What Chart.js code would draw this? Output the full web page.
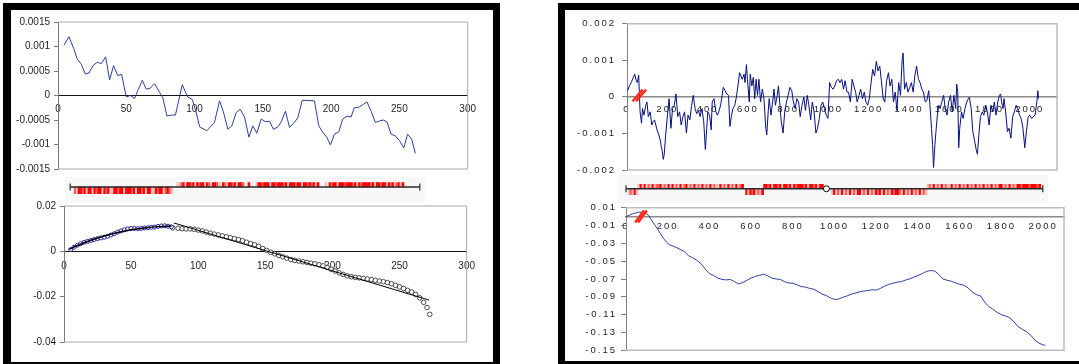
<!DOCTYPE html>
<html><head><meta charset="utf-8">
<script src="https://cdn.jsdelivr.net/npm/chart.js@4/dist/chart.umd.min.js"></script>
<style>
html,body{margin:0;padding:0;background:#fff;width:1079px;height:364px;overflow:hidden;position:relative}
.panel{position:absolute;border-style:solid;border-color:#000;box-sizing:border-box}
canvas{position:absolute}
</style></head><body>
<div class="panel" style="left:3px;top:3px;width:497px;height:366px;border-width:7px 7px 7px 8px"></div>
<div class="panel" style="left:558px;top:3px;width:540px;height:365px;border-width:7px"></div>
<canvas id="cA" width="470" height="170" style="left:14px;top:12px"></canvas>
<canvas id="cB" width="360" height="26" style="left:65px;top:177px"></canvas>
<canvas id="cC" width="470" height="158" style="left:14px;top:196px"></canvas>
<canvas id="cD" width="500" height="170" style="left:568px;top:12px"></canvas>
<canvas id="cF" width="430" height="28" style="left:618px;top:175px"></canvas>
<canvas id="cE" width="505" height="162" style="left:568px;top:198px"></canvas>
<script>
// ---------------- DATA ----------------
// Left panel, top: per-gene skew
const leftTopX = [4.4,8,11.5,14,17,20,22.7,25.6,28.8,31.7,34.9,37.8,40.7,43.7,46.6,50,53,56,58.8,61.7,64.6,67.6,70.7,73.9,76.8,79.8,83,86,91,95,98.3,101,103.7,109,114.6,118.3,121,124.4,127.3,130.5,133.4,136.6,139.8,142.7,145.6,148.8,151.7,154.9,157.8,161,163.4,166.6,169.5,172.4,175.6,178.8,181.7,187.8,191,193.9,196.8,199.5,202.4,205.6,208.5,211.7,214.6,217,220.2,223.7,226.3,229.3,232.4,235.4,238.3,241,243.9,247,250,253.2,256,259,261.7];
const leftTopY = [0.00103,0.0012,0.00096,0.00075,0.00064,0.00044,0.00046,0.00061,0.00068,0.00065,0.00079,0.00032,0.00061,0.00041,0.00043,-0.00003,0,-0.00006,0.00012,0.00031,0.00013,0.00015,0.00024,0.00009,-0.00005,-0.00042,-0.0004,-0.0004,0.00022,-0.00003,-0.00008,-0.00032,-0.00064,-0.00072,-0.00055,-0.00011,-0.00032,-0.00069,-0.00062,-0.00035,-0.00028,-0.00044,-0.00085,-0.00062,-0.00077,-0.00048,-0.00053,-0.00053,-0.00069,-0.00064,-0.00054,-0.00032,-0.00065,-0.00057,-0.00046,-0.0001,-0.0001,-0.00011,-0.00062,-0.00075,-0.00085,-0.00101,-0.00079,-0.00074,-0.00048,-0.00042,-0.00044,-0.00025,-0.00024,-0.00018,-0.00013,-0.00032,-0.00055,-0.00052,-0.0005,-0.00054,-0.00079,-0.00082,-0.00092,-0.00107,-0.00079,-0.00089,-0.00118];
const leftTopYTicks = [-0.0015,-0.001,-0.0005,0,0.0005,0.001,0.0015];
const leftTopYLabels = ['-0.0015','-0.001','-0.0005','0','0.0005','0.001','0.0015'];
const leftXTicks = [0,50,100,150,200,250,300];
const leftXLabels = ['0','50','100','150','200','250','300'];

// Left panel, bottom: cumulative skew
const leftCumBlueX = [5,7.5,10,12.5,15,17.5,20,22.5,25,27.5,30,32.5,35,37.5,40,42.5,45,47.5,50,52.5,55,57.5,60,62.5,65,67.5,70,72.5,75,77.5,80];
const leftCumBlueY = [0.0008,0.0018,0.0027,0.0034,0.0040,0.0044,0.0048,0.0052,0.0056,0.0059,0.0062,0.0066,0.0072,0.0078,0.0085,0.0090,0.0095,0.0099,0.0101,0.0101,0.0100,0.0101,0.0103,0.0104,0.0106,0.0107,0.0110,0.0112,0.0113,0.0111,0.0108];
const leftCumBlackX = [81,85,88,91,94,97,100,103,106,109,112,115,118,121,124,127,130,133,136,139,142,145,148,151,154,157,160,163,166,169,172,175,178,181,184,187,190,193,196,199,202,205,208,211,214,217,220,223,226,229,232,235,238,241,244,247,250,253,256,259,262,265,268,270.5,272.5];
const leftCumBlackY = [0.0104,0.0102,0.0100,0.0099,0.0099,0.0097,0.0094,0.0090,0.0085,0.0080,0.0076,0.0072,0.0068,0.0064,0.0060,0.0056,0.0052,0.0047,0.0040,0.0034,0.0029,0.0022,0.0012,0.0004,-0.0004,-0.0011,-0.0018,-0.0024,-0.0030,-0.0036,-0.0040,-0.0043,-0.0046,-0.0049,-0.0052,-0.0055,-0.0059,-0.0064,-0.0071,-0.0079,-0.0087,-0.0095,-0.0102,-0.0108,-0.0112,-0.0115,-0.0117,-0.0119,-0.0122,-0.0125,-0.0128,-0.0131,-0.0134,-0.0138,-0.0143,-0.0150,-0.0157,-0.0164,-0.0172,-0.0180,-0.0190,-0.0205,-0.0225,-0.0248,-0.0278];
const leftFit1X = [4,10,20,30,40,50,60,70,80];
const leftFit1Y = [0.0009,0.0026,0.0049,0.0068,0.0083,0.0095,0.0103,0.0109,0.0112];
const leftFit2X = [82,272];
const leftFit2Y = [0.0125,-0.0215];
const leftCumYTicks = [-0.04,-0.02,0,0.02];
const leftCumYLabels = ['-0.04','-0.02','0','0.02'];

// Left strip: gene slots [start slot, intensity codes]
const leftStripSlots = 177;
const leftUpperGenes = [[54,'1123133231323313213321'],[77,'32133231332'],[90,'3'],[94,'13323331332333231333233133232313'],[129,'1'],[131,'32331333233323132333323133233132312313']];
const leftLowerGenes = [[2,'21332313313233132311332331333231332313311323312321']];

// Right panel, top: per-gene skew
const rightTopX = [3,12,21,29,38,45,51,58,65,72,
77,84,93,99,106,115,123,130,137,144,
149,158,166,171,175,180,185,192,201,209,
218,226,235,243,252,261,269,278,286,295,
303,312,321,329,338,346,355,363,372,381,
389,394,401,410,418,423,432,441,449,458,
466,478,487,495,504,511,518,526,535,543,
552,559,566,572,581,586,593,598,607,612,
620,627,634,641,648,655,663,672,680,689,
694,701,706,715,723,730,737,746,752,758,
766,775,783,792,800,809,818,826,835,843,
852,860,869,878,886,895,903,912,920,929,
938,946,955,963,972,980,989,998,1006,1015,
1023,1032,1040,1049,1058,1066,1075,1083,1092,1100,
1109,1118,1126,1135,1143,1152,1160,1169,1178,1186,
1195,1203,1212,1220,1229,1238,1246,1255,1263,1272,
1280,1289,1298,1306,1315,1323,1332,1340,1349,1358,
1366,1371,1378,1387,1395,1404,1412,1421,1429,1438,
1447,1455,1464,1472,1481,1489,1498,1503,1512,1517,
1522,1529,1534,1541,1548,1555,1563,1572,1580,1589,
1597,1606,1615,1623,1632,1637,1642,1647,1652,1661,
1669,1678,1687,1695,1700,1709,1717,1726,1735,1740,
1747,1755,1764,1772,1781,1789,1798,1807,1815,1824,
1832,1841,1849,1855,1860,1867,1872,1880,1889,1897,
1906,1915,1923,1932,1940,1949,1957,1966,1975,1983,
1992,2000,2009,2017,2026,2035,2040,2043];
const rightTopY = [0.00017,0.00030,0.00039,0.00050,0.00062,0.00046,0.00039,0.00059,-0.00041,-0.00072,
-0.00032,-0.00050,-0.00023,-0.00014,-0.00054,-0.00041,-0.00077,-0.00068,-0.00063,-0.00079,
-0.00090,-0.00104,-0.00121,-0.00139,-0.00148,-0.00171,-0.00157,-0.00104,-0.00050,-0.00005,
-0.00086,-0.00032,-0.00023,0.00008,-0.00054,-0.00041,-0.00077,-0.00054,-0.00041,-0.00099,
-0.00050,-0.00063,-0.00023,0.00004,-0.00032,-0.00046,-0.00037,-0.00054,-0.00032,-0.00068,
-0.00144,-0.00104,-0.00041,-0.00050,-0.00090,-0.00014,-0.00005,-0.00041,-0.00050,-0.00037,
-0.00019,0.00026,0.00017,0.00008,0.00004,-0.00081,-0.00054,-0.00032,-0.00023,-0.00001,
0.00035,0.00066,0.00057,0.00048,0.00062,0.00039,0.00088,0.00048,-0.00014,0.00062,
0.00030,0.00053,-0.00005,0.00048,0.00004,0.00048,-0.00014,0.00021,-0.00005,-0.00086,
-0.00104,-0.00041,-0.00005,-0.00050,-0.00014,0.00021,-0.00023,0.00004,0.00030,-0.00014,
-0.00068,-0.00099,-0.00041,-0.00014,0.00004,0.00026,0.00017,-0.00014,-0.00032,-0.00005,
-0.00014,-0.00054,-0.00023,-0.00001,-0.00037,0.00004,-0.00023,-0.00063,-0.00014,-0.00041,
-0.00099,-0.00086,-0.00059,-0.00023,-0.00014,-0.00032,-0.00050,-0.00059,0.00039,0.00026,
0.00021,0.00030,0.00044,0.00048,0.00039,0.00048,0.00021,0.00044,0.00013,0.00013,
-0.00014,0.00048,0.00030,0.00013,-0.00014,0.00004,0.00021,-0.00005,0.00013,-0.00014,
-0.00023,-0.00005,0.00039,0.00075,0.00057,0.00097,0.00071,0.00084,0.00044,-0.00005,
-0.00014,0.00044,0.00066,0.00030,0.00048,-0.00014,0.00013,-0.00037,0.00039,0.00004,
0.00102,0.00120,0.00021,0.00039,0.00013,0.00026,0.00039,0.00013,0.00057,0.00084,
0.00048,0.00039,0.00021,0.00013,-0.00014,-0.00010,0.00017,-0.00014,-0.00086,-0.00130,
-0.00193,-0.00130,-0.00095,-0.00050,-0.00023,-0.00032,-0.00014,0.00004,-0.00032,-0.00050,
-0.00014,0.00004,-0.00041,0.00004,-0.00032,0.00035,0.00013,-0.00139,-0.00086,-0.00041,
-0.00059,-0.00032,-0.00014,-0.00005,-0.00001,-0.00032,-0.00095,-0.00121,-0.00148,-0.00157,
-0.00104,-0.00054,-0.00041,-0.00050,-0.00023,-0.00041,-0.00077,-0.00023,-0.00041,-0.00014,
-0.00050,-0.00014,0.00004,0.00008,-0.00014,-0.00032,-0.00005,-0.00041,-0.00095,-0.00086,
-0.00113,-0.00054,-0.00041,-0.00023,-0.00032,-0.00050,-0.00059,-0.00086,-0.00139,-0.00095,
-0.00054,-0.00050,-0.00059,-0.00054,-0.00050,-0.00014,0.00017,-0.00005];
const rightTopYTicks = [-0.002,-0.001,0,0.001,0.002];
const rightTopYLabels = ['-0.002','-0.001','0','0.001','0.002'];
const rightXTicks = [0,200,400,600,800,1000,1200,1400,1600,1800,2000];
const rightXLabels = ['0','200','400','600','800','1000','1200','1400','1600','1800','2000'];
const rightTopMark1 = [[28,-0.00012],[78,0.0002]];
const rightTopMark2 = [[45,-0.00012],[95,0.0002]];

// Right panel, bottom: cumulative skew
const rightCumX = [0,15,30,45,60,75,90,105,120,135,150,165,180,195,210,225,240,260,280,300,320,340,360,380,400,420,440,460,480,500,520,540,560,580,600,620,640,660,680,700,720,740,760,780,800,820,840,860,880,900,920,940,960,980,1000,1020,1040,1060,1080,1100,1120,1140,1160,1180,1200,1220,1240,1260,1280,1300,1320,1340,1360,1380,1400,1420,1440,1460,1480,1500,1520,1540,1560,1580,1600,1620,1640,1660,1680,1700,1720,1740,1760,1780,1800,1820,1840,1860,1880,1900,1920,1940,1960,1980,2000,2010];
const rightCumY = [0,0.0015,0.0030,0.0040,0.0050,0.0048,0.0042,0.0020,-0.0030,-0.0085,-0.0135,-0.0190,-0.0245,-0.0290,-0.0318,-0.0330,-0.0345,-0.0368,-0.0392,-0.0440,-0.0462,-0.0490,-0.0530,-0.0590,-0.0640,-0.0660,-0.0690,-0.0705,-0.0710,-0.0705,-0.0730,-0.0755,-0.0740,-0.0715,-0.0690,-0.0670,-0.0660,-0.0645,-0.0665,-0.0690,-0.0700,-0.0705,-0.0730,-0.0745,-0.0748,-0.0765,-0.0785,-0.0790,-0.0805,-0.0815,-0.0840,-0.0870,-0.0885,-0.0912,-0.0930,-0.0925,-0.0905,-0.0890,-0.0870,-0.0858,-0.0845,-0.0835,-0.0830,-0.0820,-0.0825,-0.0805,-0.0780,-0.0760,-0.0748,-0.0735,-0.0730,-0.0712,-0.0698,-0.0680,-0.0660,-0.0640,-0.0615,-0.0605,-0.0610,-0.0650,-0.0700,-0.0715,-0.0725,-0.0745,-0.0760,-0.0770,-0.0800,-0.0845,-0.0875,-0.0890,-0.0960,-0.1010,-0.1040,-0.1075,-0.1100,-0.1115,-0.1135,-0.1180,-0.1235,-0.1265,-0.1290,-0.1330,-0.1385,-0.1420,-0.1440,-0.1442];
const rightCumYTicks = [-0.15,-0.13,-0.11,-0.09,-0.07,-0.05,-0.03,-0.01,0.01];
const rightCumYLabels = ['-0.15','-0.13','-0.11','-0.09','-0.07','-0.05','-0.03','-0.01','0.01'];
const rightCumMark1 = [[44,-0.0065],[86,0.0068]];
const rightCumMark2 = [[58,-0.0065],[100,0.0068]];

// Right strip
const rightStripSlots = 209;
const rightUpperGenes = [[6,'13131213122312131312131231213121312131211312131213123'],[69,'332313323133231323332313323133'],[151,'121312131211312131213121312131213121331213121332333233323']];
const rightLowerGenes = [[1,'12131'],[60,'313231213'],[103,'131213121312133121312132313121323321312131213121']];
const rightStripTerminus = [100];

// ---------------- RENDERING ----------------
const GENE_COLOURS = {'1':'#ffbcbc','2':'#ff5a5a','3':'#ff0000'};
const FAM = '"Liberation Sans", Arial, sans-serif';
Chart.defaults.font.family = FAM;
Chart.defaults.animation = false;
Chart.defaults.events = [];
Chart.defaults.plugins.legend.display = false;
Chart.defaults.plugins.tooltip.enabled = false;

const pts = (xs, ys) => xs.map((x, i) => ({x, y: ys[i]}));
const pairPts = arr => arr.map(([x, y]) => ({x, y}));

const framePlugin = { id:'frame', beforeDatasetsDraw(chart, a, o) {
  if (!o || !o.color) return;
  const {left, top, right, bottom} = chart.chartArea, c = chart.ctx;
  c.save(); c.strokeStyle = o.color; c.lineWidth = o.width || 1;
  c.beginPath(); c.moveTo(left, top); c.lineTo(right, top); c.lineTo(right, bottom); c.lineTo(left, bottom); c.stroke(); c.restore();
}};
const bgPlugin = { id:'bg', beforeDraw(chart, a, o) {
  if (!o || !o.color) return;
  const c = chart.ctx; c.save(); c.fillStyle = o.color; c.fillRect(0, 0, chart.width, chart.height); c.restore();
}};
const spacingPlugin = { id:'spacing',
  beforeUpdate(chart, a, o) { chart.ctx.letterSpacing = (o && o.value) || '0px'; },
  beforeLayout(chart, a, o) { chart.ctx.letterSpacing = (o && o.value) || '0px'; },
  beforeDraw(chart, a, o) { chart.ctx.letterSpacing = (o && o.value) || '0px'; }
};
Chart.register(framePlugin, bgPlugin, spacingPlugin);

function yScale(min, max, ticks, labels, width, font, axisColor, tickLen, pad) {
  return { type:'linear', position:'left', min, max,
    afterFit: s => { s.width = width; },
    afterBuildTicks: s => { s.ticks = ticks.map(v => ({value: v})); },
    ticks: { autoSkip:false, font, color:'#1e1e1e', padding:pad, callback:(v, i) => labels[i] },
    grid: { drawOnChartArea:false, drawTicks:true, tickLength:tickLen, color:axisColor, lineWidth:1 },
    border: { display:true, color:axisColor, width:1 } };
}
function xScale(min, max, ticks, labels, font, axisColor, axisWidth, pad) {
  return { type:'linear', min, max, position:{y:0},
    afterBuildTicks: s => { s.ticks = ticks.map(v => ({value: v})); },
    ticks: { autoSkip:false, maxRotation:0, font, color:'#1e1e1e', padding:pad, callback:(v, i) => labels[i] },
    grid: { drawOnChartArea:false, drawTicks:false },
    border: { display:true, color:axisColor, width:axisWidth } };
}
const fontL = {family:FAM, size:10};
const fontR = {family:FAM, size:9.5};

// A: left top
new Chart(document.getElementById('cA'), {
  type:'line',
  data:{ datasets:[{ data: pts(leftTopX, leftTopY), borderColor:'#2f3f9f', borderWidth:1, pointRadius:0, tension:0 }]},
  options:{ responsive:false, layout:{padding:{left:0, top:8, right:16, bottom:13}},
    scales:{ x: xScale(0, 300, leftXTicks, leftXLabels, fontL, '#111', 1, 8),
             y: yScale(-0.0015, 0.0015, leftTopYTicks, leftTopYLabels, 44, fontL, '#7a7a7a', 4, 4) },
    plugins:{ frame:{color:'#a8a8a8', width:1} } }
});

// strips
function strip(id, nSlots, upperGenes, lowerGenes, yMin, yMax, lowDepth, terminus, pad) {
  const up = [], upC = [], lo = [], loC = [];
  upperGenes.forEach(([s, codes]) => [...codes].forEach((c, k) => { if (c !== '0') { up.push({x: s + k, y: [0, 1]}); upC.push(GENE_COLOURS[c]); } }));
  lowerGenes.forEach(([s, codes]) => [...codes].forEach((c, k) => { if (c !== '0') { lo.push({x: s + k, y: [lowDepth, 0]}); loC.push(GENE_COLOURS[c]); } }));
  const ds = [
    { type:'bar', data: up, backgroundColor: upC, barThickness: 2, grouped:false, borderWidth:0, order:3 },
    { type:'bar', data: lo, backgroundColor: loC, barThickness: 2, grouped:false, borderWidth:0, order:3 },
    { type:'line', data:[{x:-0.5, y:0}, {x:nSlots - 0.5, y:0}], borderColor:'#2a2a2a', borderWidth:1.5,
      pointStyle:'line', rotation:90, pointRadius:3.5, pointBorderColor:'#2a2a2a', pointBorderWidth:1.2, clip:false, order:2 }
  ];
  if (terminus) ds.push({ type:'line', showLine:false, data: terminus.map(x => ({x, y:0})), pointRadius:3,
      pointBackgroundColor:'#fff', pointBorderColor:'#000', pointBorderWidth:1, clip:false, order:1 });
  new Chart(document.getElementById(id), {
    type:'bar', data:{ datasets: ds },
    options:{ responsive:false, layout:{padding:pad},
      scales:{ x:{ type:'linear', min:-0.5, max:nSlots - 0.5, offset:false, display:false },
               y:{ min:yMin, max:yMax, display:false } },
      plugins:{ bg:{color:'#f7f7f7'} } }
  });
}
strip('cB', leftStripSlots, leftUpperGenes, leftLowerGenes, -2.25, 1, -1.4, null, {left:2, right:3, top:0, bottom:0});
strip('cF', rightStripSlots, rightUpperGenes, rightLowerGenes, -2.0, 1.9, -1.3, rightStripTerminus, {left:8, right:4, top:0, bottom:0});

// C: left bottom
new Chart(document.getElementById('cC'), {
  type:'line',
  data:{ datasets:[
    { data: pts(leftFit1X, leftFit1Y), borderColor:'#000', borderWidth:1.5, pointRadius:0, tension:0.4, order:0 },
    { data: pts(leftFit2X, leftFit2Y), borderColor:'#000', borderWidth:1, pointRadius:0, order:0 },
    { data: pts(leftCumBlueX, leftCumBlueY), showLine:false, pointRadius:2, pointBorderWidth:1, pointBorderColor:'#27279a', pointBackgroundColor:'rgba(255,255,255,0.6)', order:1 },
    { data: pts(leftCumBlackX, leftCumBlackY), showLine:false, pointRadius:2.3, pointBorderWidth:0.8, pointBorderColor:'#222', pointBackgroundColor:'#fff', order:1 }
  ]},
  options:{ responsive:false, layout:{padding:{left:0, top:10, right:16, bottom:12}},
    scales:{ x: xScale(0, 300, leftXTicks, leftXLabels, fontL, '#111', 1, 9),
             y: yScale(-0.04, 0.02, leftCumYTicks, leftCumYLabels, 50, fontL, '#7a7a7a', 4, 4) },
    plugins:{ frame:{color:'#a8a8a8', width:1} } }
});

// D: right top
new Chart(document.getElementById('cD'), {
  type:'line',
  data:{ datasets:[
    { data: pts(rightTopX, rightTopY), borderColor:'#061080', borderWidth:1, pointRadius:0, tension:0, order:1 },
    { data: pairPts(rightTopMark1), borderColor:'#ff2a1a', borderWidth:2.5, pointRadius:0, order:0 },
    { data: pairPts(rightTopMark2), borderColor:'#ff2a1a', borderWidth:2.5, pointRadius:0, order:0 }
  ]},
  options:{ responsive:false, layout:{padding:{left:0, top:8, right:11, bottom:12}},
    scales:{ x: xScale(0, 2135, rightXTicks, rightXLabels, fontR, '#8a8a8a', 1.5, 7),
             y: yScale(-0.002, 0.002, rightTopYTicks, rightTopYLabels, 59, fontR, '#808080', 5, 6) },
    plugins:{ frame:{color:'#bdbdbd', width:1.5}, spacing:{value:'2px'} } }
});

// E: right bottom
new Chart(document.getElementById('cE'), {
  type:'line',
  data:{ datasets:[
    { data: pts(rightCumX, rightCumY), borderColor:'#2f3fa5', borderWidth:1, pointRadius:0, tension:0, order:1 },
    { data: pairPts(rightCumMark1), borderColor:'#ff2a1a', borderWidth:2.5, pointRadius:0, order:0 },
    { data: pairPts(rightCumMark2), borderColor:'#ff2a1a', borderWidth:2.5, pointRadius:0, order:0 }
  ]},
  options:{ responsive:false, layout:{padding:{left:0, top:9, right:9, bottom:7}},
    scales:{ x: xScale(0, 2100, rightXTicks, rightXLabels, fontR, '#8a8a8a', 1.5, 4),
             y: yScale(-0.15, 0.01, rightCumYTicks, rightCumYLabels, 58, fontR, '#808080', 5, 4) },
    plugins:{ frame:{color:'#bdbdbd', width:1.5}, spacing:{value:'2px'} } }
});
</script>
</body></html>
